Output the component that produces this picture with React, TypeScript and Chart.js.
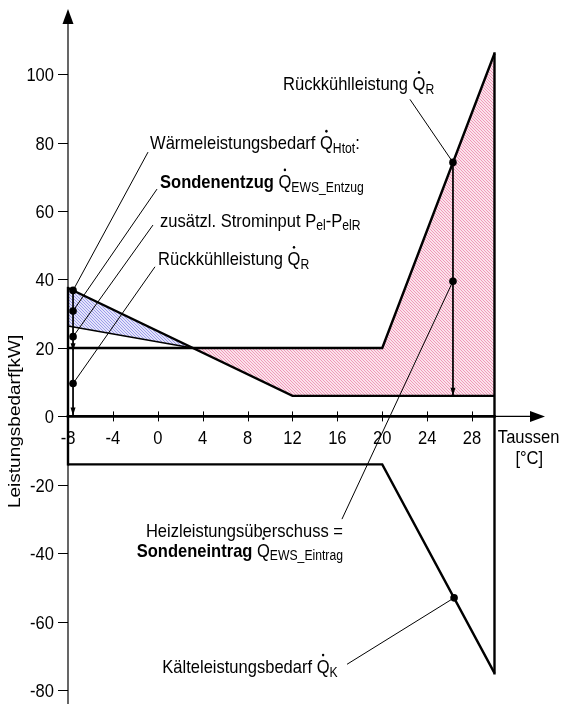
import React, { useEffect, useRef } from 'react';
import { Chart, registerables } from 'chart.js';

Chart.register(...registerables);

// ---------- fonts / text style ----------
const FAMILY = "'Liberation Sans', Arial, Helvetica, sans-serif";
const FS = 19;
const SUB_FS = 14;
const SX = 0.87;

// ---------- axes ----------
const X_MIN = -8;
const X_MAX = 34.5;
const Y_MIN = -84;
const Y_MAX = 119;
const xTickValues = [-8, -4, 0, 4, 8, 12, 16, 20, 24, 28];
const yTickValues = [-80, -60, -40, -20, 0, 20, 40, 60, 80, 100];

// ---------- series ----------
// Wärmeleistungsbedarf Q_Htot
const heatX = [-8, 12, 30];
const heatY = [37.5, 6, 6];
// upper line (20 kW plateau, rising in summer)
const upperX = [-8, 20, 30];
const upperY = [20, 20, 106];
// Kälteleistungsbedarf Q_K
const coolX = [-8, 20, 30];
const coolY = [-14, -14, -75];
// Sondenentzug lower boundary
const entzugX = [-8, 3.1];
const entzugY = [26.4, 20];
// frame lines
const leftEdgeX = [-8, -8];
const leftEdgeY = [-14, 37.5];
const baseX = [-8, 30];
const baseY = [0, 0];
const rightEdgeX = [30, 30];
const rightEdgeY = [-75, 106];
// hatched areas
const blueX = [-8, 3.1, -8, -8];
const blueY = [37.5, 20, 26.4, 37.5];
const pinkX = [3.1, 20, 30, 30, 12, 3.1];
const pinkY = [20, 20, 106, 6, 6, 20];
// marker dots
const dotX = [-7.55, -7.55, -7.55, -7.55, 26.3, 26.3, 26.4];
const dotY = [36.8, 30.8, 23.3, 9.6, 74.2, 39.5, -53];
// measurement lines
const measLX = [-7.55, -7.55];
const measLY = [36.8, 0];
const measRX = [26.3, 26.3];
const measRY = [74.2, 6];
const arrowTipX = [-7.55, -7.55, 26.3];
const arrowTipY = [19, 0.3, 6];
// leader lines (label anchor -> dot)
const leaderFromX = [-0.87, -0.07, -0.43, -0.25, 22.47, 16.41, 16.86];
const leaderFromY = [77.2, 66.4, 55.9, 43.7, 92.6, -30.0, -72.4];
const leaderToX = [-7.55, -7.55, -7.55, -7.55, 26.3, 26.3, 26.4];
const leaderToY = [36.8, 30.8, 23.3, 9.6, 74.2, 39.5, -53];

type Run = { t: string; bold?: boolean; sub?: boolean; dot?: boolean };
type Label = { x: number; y: number; align: 'left' | 'right' | 'center'; runs: Run[] };

const labels: Label[] = [
  { x: -0.69, y: 78.0, align: 'left', runs: [{ t: 'Wärmeleistungsbedarf ' }, { t: 'Q', dot: true }, { t: 'Htot', sub: true }, { t: ':' }] },
  { x: 0.2, y: 66.7, align: 'left', runs: [{ t: 'Sondenentzug', bold: true }, { t: ' ' }, { t: 'Q', dot: true }, { t: 'EWS_Entzug', sub: true }] },
  { x: 0.2, y: 55.4, align: 'left', runs: [{ t: 'zusätzl. Strominput P' }, { t: 'el', sub: true }, { t: '-P' }, { t: 'elR', sub: true }] },
  { x: 0.02, y: 44.1, align: 'left', runs: [{ t: 'Rückkühlleistung ' }, { t: 'Q', dot: true }, { t: 'R', sub: true }] },
  { x: 11.16, y: 95.2, align: 'left', runs: [{ t: 'Rückkühlleistung ' }, { t: 'Q', dot: true }, { t: 'R', sub: true }] },
  { x: 16.5, y: -35.2, align: 'right', runs: [{ t: 'Heizleistungsüberschuss =' }] },
  { x: 16.5, y: -41.0, align: 'right', runs: [{ t: 'Sondeneintrag', bold: true }, { t: ' ' }, { t: 'Q', dot: true }, { t: 'EWS_Eintrag', sub: true }] },
  { x: 0.4, y: -75.0, align: 'left', runs: [{ t: 'Kälteleistungsbedarf ' }, { t: 'Q', dot: true }, { t: 'K', sub: true }] },
  { x: 30.3, y: -7.8, align: 'left', runs: [{ t: 'Taussen' }] },
  { x: 33.1, y: -14.0, align: 'center', runs: [{ t: '[°C]' }] },
];
const yTitle = 'Leistungsbedarf[kW]';

const pts = (xs: number[], ys: number[]) => xs.map((x, i) => ({ x, y: ys[i] }));

function fontOf(r: Run) {
  return `${r.bold ? 'bold ' : ''}${r.sub ? SUB_FS : FS}px ${FAMILY}`;
}

function drawRich(ctx: CanvasRenderingContext2D, runs: Run[], px: number, py: number, align: string) {
  ctx.save();
  ctx.translate(px, py);
  ctx.scale(SX, 1);
  ctx.textBaseline = 'alphabetic';
  ctx.textAlign = 'left';
  const widths = runs.map((r) => {
    ctx.font = fontOf(r);
    return ctx.measureText(r.t).width;
  });
  const total = widths.reduce((a, b) => a + b, 0);
  let cx = align === 'left' ? 0 : align === 'right' ? -total : -total / 2;
  runs.forEach((r, i) => {
    ctx.font = fontOf(r);
    ctx.fillStyle = '#000';
    ctx.fillText(r.t, cx, r.sub ? 3.5 : 0);
    if (r.dot) {
      ctx.beginPath();
      ctx.arc(cx + widths[i] / 2, -FS * 0.716 - 4.5, 1.4, 0, Math.PI * 2);
      ctx.fill();
    }
    cx += widths[i];
  });
  ctx.restore();
}

function tri(ctx: CanvasRenderingContext2D, tipX: number, tipY: number, dir: 'up' | 'down' | 'right', len: number, half: number) {
  ctx.beginPath();
  if (dir === 'up') {
    ctx.moveTo(tipX, tipY);
    ctx.lineTo(tipX - half, tipY + len);
    ctx.lineTo(tipX + half, tipY + len);
  } else if (dir === 'down') {
    ctx.moveTo(tipX, tipY);
    ctx.lineTo(tipX - half, tipY - len);
    ctx.lineTo(tipX + half, tipY - len);
  } else {
    ctx.moveTo(tipX, tipY);
    ctx.lineTo(tipX - len, tipY - half);
    ctx.lineTo(tipX - len, tipY + half);
  }
  ctx.closePath();
  ctx.fill();
}

const axesPlugin = {
  id: 'customAxes',
  beforeDatasetsDraw(chart: any) {
    const { ctx } = chart;
    const xs = chart.scales.x;
    const ys = chart.scales.y;
    const ax = xs.getPixelForValue(X_MIN);
    const ay = ys.getPixelForValue(0);
    const top = ys.getPixelForValue(Y_MAX);
    const bottom = ys.getPixelForValue(Y_MIN);
    const right = xs.getPixelForValue(X_MAX);
    ctx.save();
    ctx.strokeStyle = '#000';
    ctx.fillStyle = '#000';
    ctx.lineWidth = 1.2;
    // y axis
    ctx.beginPath();
    ctx.moveTo(ax, top + 10);
    ctx.lineTo(ax, bottom);
    ctx.stroke();
    tri(ctx, ax, top, 'up', 15, 5.5);
    // x axis
    ctx.beginPath();
    ctx.moveTo(ax, ay);
    ctx.lineTo(right - 10, ay);
    ctx.stroke();
    tri(ctx, right, ay, 'right', 15, 5.5);
    // ticks
    ctx.lineWidth = 1;
    yTickValues.forEach((v) => {
      const py = Math.round(ys.getPixelForValue(v)) + 0.5;
      ctx.beginPath();
      ctx.moveTo(ax - 10, py);
      ctx.lineTo(ax, py);
      ctx.stroke();
    });
    xTickValues.forEach((v) => {
      const px = Math.round(xs.getPixelForValue(v)) + 0.5;
      ctx.beginPath();
      ctx.moveTo(px, ay - 5);
      ctx.lineTo(px, ay + 5);
      ctx.stroke();
    });
    ctx.restore();
  },
  afterDatasetsDraw(chart: any) {
    const { ctx } = chart;
    const xs = chart.scales.x;
    const ys = chart.scales.y;
    const ax = xs.getPixelForValue(X_MIN);
    const ay = ys.getPixelForValue(0);
    ctx.save();
    ctx.fillStyle = '#000';
    // measurement arrowheads
    arrowTipX.forEach((v, i) => {
      tri(ctx, xs.getPixelForValue(v), ys.getPixelForValue(arrowTipY[i]), 'down', 8, 2.5);
    });
    // tick labels
    yTickValues.forEach((v) => {
      drawRich(ctx, [{ t: String(v) }], ax - 14, ys.getPixelForValue(v) + 7, 'right');
    });
    xTickValues.forEach((v) => {
      drawRich(ctx, [{ t: String(v) }], xs.getPixelForValue(v), ay + 28, 'center');
    });
    // labels
    labels.forEach((l) => {
      drawRich(ctx, l.runs, xs.getPixelForValue(l.x), ys.getPixelForValue(l.y), l.align);
    });
    // y title
    ctx.save();
    ctx.translate(ax - 48, ay + 5);
    ctx.scale(SX, 1);
    ctx.rotate(-Math.PI / 2);
    ctx.font = `${FS}px ${FAMILY}`;
    ctx.textAlign = 'center';
    ctx.textBaseline = 'alphabetic';
    ctx.fillText(yTitle, 0, 0);
    ctx.restore();
    ctx.restore();
  },
};

function makePattern(bg: string, color: string) {
  const n = 3;
  const c = document.createElement('canvas');
  c.width = n;
  c.height = n;
  const g = c.getContext('2d')!;
  g.fillStyle = bg;
  g.fillRect(0, 0, n, n);
  g.fillStyle = color;
  for (let i = 0; i < n; i++) {
    g.fillRect(i, i, 1, 1);
  }
  return g.createPattern(c, 'repeat')!;
}

export default function App() {
  const ref = useRef<HTMLCanvasElement>(null);
  useEffect(() => {
    const canvas = ref.current!;
    const blue = makePattern('#e4e4fa', '#9c9cea');
    const pink = makePattern('#fbe2eb', '#f09ab9');
    const lineDs = (xs: number[], ys: number[], w: number, extra: any = {}) => ({
      data: pts(xs, ys),
      showLine: true,
      borderColor: '#000',
      backgroundColor: '#000',
      borderWidth: w,
      pointRadius: 0,
      fill: false,
      clip: false,
      tension: 0,
      ...extra,
    });
    const chart = new Chart(canvas, {
      type: 'scatter',
      data: {
        datasets: [
          { data: pts(dotX, dotY), showLine: false, pointRadius: 3.8, pointBackgroundColor: '#000', pointBorderWidth: 0, clip: false },
          ...leaderFromX.map((_, i) => lineDs([leaderFromX[i], leaderToX[i]], [leaderFromY[i], leaderToY[i]], 1)),
          lineDs(measLX, measLY, 1),
          lineDs(measRX, measRY, 1),
          lineDs(heatX, heatY, 2.4),
          lineDs(upperX, upperY, 2.4),
          lineDs(coolX, coolY, 2.4),
          lineDs(entzugX, entzugY, 1.6),
          lineDs(leftEdgeX, leftEdgeY, 2.4, { borderCapStyle: 'square' }),
          lineDs(baseX, baseY, 2.6, { borderCapStyle: 'square' }),
          lineDs(rightEdgeX, rightEdgeY, 2.4, { borderCapStyle: 'square' }),
          { data: pts(blueX, blueY), showLine: true, borderWidth: 0, borderColor: 'rgba(0,0,0,0)', backgroundColor: blue, fill: 'shape', pointRadius: 0, tension: 0 },
          { data: pts(pinkX, pinkY), showLine: true, borderWidth: 0, borderColor: 'rgba(0,0,0,0)', backgroundColor: pink, fill: 'shape', pointRadius: 0, tension: 0 },
        ],
      },
      options: {
        animation: false,
        responsive: false,
        events: [],
        layout: { padding: { left: 68, right: 17, top: 9, bottom: 0 } },
        plugins: { legend: { display: false }, tooltip: { enabled: false } },
        scales: {
          x: { type: 'linear', min: X_MIN, max: X_MAX, display: false },
          y: { type: 'linear', min: Y_MIN, max: Y_MAX, display: false },
        },
      },
      plugins: [axesPlugin],
    } as any);
    return () => chart.destroy();
  }, []);
  return (
    <div style={{ position: 'fixed', left: 0, top: 0, width: 562, height: 708, background: '#fff' }}>
      <canvas ref={ref} width={562} height={708} style={{ display: 'block' }} />
    </div>
  );
}
